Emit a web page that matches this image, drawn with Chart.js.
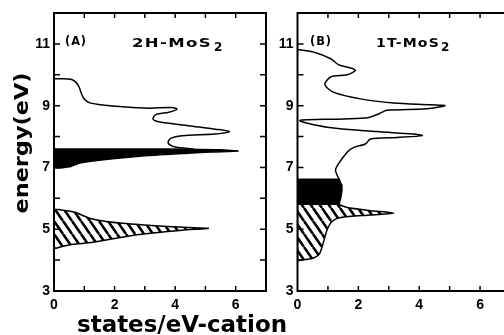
<!DOCTYPE html>
<html>
<head>
<meta charset="utf-8">
<script src="https://cdn.jsdelivr.net/npm/chart.js@4.4.1/dist/chart.umd.min.js"></script>
<style>
  html, body { margin: 0; padding: 0; background: #fff; overflow: hidden; }
  #wrap { position: relative; width: 504px; height: 335px; overflow: hidden; }
  canvas { position: absolute; top: 0; }
  #cvA { left: 0; }
  #cvB { left: 268px; }
</style>
</head>
<body>
<div id="wrap">
  <canvas id="cvA" width="290" height="335"></canvas>
  <canvas id="cvB" width="250" height="335"></canvas>
</div>
<script>
/* global Chart */
// eixos (iguais nos dois paineis)
const X_RANGE = [0, 7];
const Y_RANGE = [3, 12];
const X_TICK_LABELS = [0, 2, 4, 6];
const Y_TICK_LABELS = [3, 5, 7, 9, 11];

// painel A: 2H-MoS2  [estados, energia]
const contornoA = [[0, 9.87], [0.58, 9.85], [0.8, 9.66], [0.96, 9.27], [1.18, 9.09], [2.05, 8.98],
  [3.14, 8.92], [3.9, 8.94], [4.06, 8.88], [3.79, 8.79], [3.36, 8.71], [3.27, 8.57], [3.46, 8.48],
  [4.44, 8.35], [5.32, 8.24], [5.8, 8.16], [5.32, 8.08], [4.23, 8.03], [3.85, 7.94], [3.77, 7.79],
  [4.01, 7.66], [4.6, 7.6]];
const blocoA = [[0, 7.6], [1.5, 7.6], [3, 7.6], [4.5, 7.59], [5.5, 7.57], [6.08, 7.53], [5.2, 7.5],
  [4.44, 7.46], [2.81, 7.36], [1.28, 7.21], [0.85, 7.14], [0.5, 7.02], [0, 7.0], [0, 7.6]];
const hachuraA = [[0, 5.65], [0.4, 5.6], [0.7, 5.55], [1.2, 5.35], [2.27, 5.19], [3.9, 5.08],
  [5.1, 5.03], [4.23, 4.97], [2.81, 4.83], [1.28, 4.58], [0.63, 4.51], [0.3, 4.45], [0, 4.4], [0, 5.65]];

// painel B: 1T-MoS2
const contornoB = [[0, 10.82], [0.55, 10.73], [1.09, 10.52], [1.36, 10.32], [1.75, 10.22], [1.9, 10.14],
  [1.63, 10.0], [1.09, 9.93], [0.9, 9.68], [1.2, 9.43], [2.07, 9.22], [3.16, 9.09], [4.4, 9.03],
  [4.85, 9.0], [4.25, 8.9], [2.94, 8.85], [2.68, 8.74], [2.35, 8.62], [1.53, 8.57], [0.08, 8.52],
  [0.98, 8.3], [2.61, 8.16], [3.8, 8.08], [4.1, 8.03], [3.27, 7.97], [2.4, 7.92], [2.23, 7.76],
  [1.85, 7.65], [1.63, 7.49], [1.25, 6.94], [1.31, 6.73], [1.37, 6.62]];
const blocoB = [[0, 6.62], [1.37, 6.62], [1.44, 6.45], [1.46, 6.25], [1.42, 6.0], [1.36, 5.81],
  [0, 5.81], [0, 6.62]];
const hachuraB = [[0, 5.81], [1.31, 5.81], [1.63, 5.7], [2.4, 5.6], [3.16, 5.52], [2.4, 5.46],
  [1.42, 5.38], [1.14, 5.26], [0.98, 5.0], [0.86, 4.6], [0.72, 4.2], [0.5, 4.06], [0.11, 4.0],
  [0, 4.0], [0, 5.81]];

const FONTE_TICK = { family: 'Liberation Sans', weight: 'bold', size: 14 };

function padraoHachura() {
  const w = 9, h = 13;
  const c = document.createElement('canvas');
  c.width = w; c.height = h;
  const g = c.getContext('2d');
  g.strokeStyle = '#000'; g.lineWidth = 2.6;
  g.beginPath();
  for (const k of [-1, 0, 1]) { g.moveTo(k * w, 0); g.lineTo(k * w + w, h); }
  g.stroke();
  return g.createPattern(c, 'repeat');
}

function serie(pts, extra) {
  return Object.assign({
    data: pts.map(([x, y]) => ({ x, y })),
    borderColor: '#000', borderWidth: 1.5, pointRadius: 0, fill: false, tension: 0.3
  }, extra);
}

// texto esticado na horizontal ate a largura pedida (alinhado ao centro)
function textoLargo(ctx, txt, cx, cy, fonte, largura, angulo) {
  ctx.save();
  ctx.font = fonte;
  const w = ctx.measureText(txt).width;
  ctx.translate(cx, cy);
  ctx.rotate(angulo || 0);
  ctx.scale(largura / w, 1);
  ctx.textAlign = 'center';
  ctx.textBaseline = 'alphabetic';
  ctx.fillText(txt, 0, 0);
  ctx.restore();
}

// rotulo do painel: espacado e esticado, alinhado a esquerda
function rotuloLargo(ctx, txt, x, y, largura) {
  ctx.save();
  ctx.font = 'bold 12px "DejaVu Sans"';
  if ('letterSpacing' in ctx) ctx.letterSpacing = '1px';
  const w = ctx.measureText(txt).width;
  ctx.translate(x, y);
  ctx.scale(largura / w, 1);
  ctx.textAlign = 'left';
  ctx.textBaseline = 'alphabetic';
  ctx.fillText(txt, 0, 0);
  ctx.restore();
}

const moldura = {
  id: 'moldura',
  afterDraw(chart) {
    const { ctx, chartArea: a, scales: { x, y } } = chart;
    ctx.save();
    ctx.strokeStyle = '#000';
    ctx.lineWidth = 2;
    ctx.strokeRect(a.left, a.top, a.right - a.left, a.bottom - a.top);
    ctx.lineWidth = 1.5;
    ctx.beginPath();
    for (let v = X_RANGE[0] + 1; v < X_RANGE[1]; v++) {
      const px = x.getPixelForValue(v);
      ctx.moveTo(px, a.bottom); ctx.lineTo(px, a.bottom - 5);
      ctx.moveTo(px, a.top); ctx.lineTo(px, a.top + 5);
    }
    for (let v = Y_RANGE[0] + 1; v < Y_RANGE[1]; v++) {
      const py = y.getPixelForValue(v);
      ctx.moveTo(a.left, py); ctx.lineTo(a.left + 6, py);
      ctx.moveTo(a.right, py); ctx.lineTo(a.right - 6, py);
    }
    ctx.stroke();
    ctx.restore();
  }
};

const rotulos = {
  id: 'rotulos',
  afterDraw(chart, args, o) {
    const ctx = chart.ctx;
    ctx.save();
    ctx.fillStyle = '#000';
    rotuloLargo(ctx, o.painel, o.px, 45, 22);
    rotuloLargo(ctx, o.nome, o.nx, 47, o.nw);
    ctx.font = 'bold 12px "DejaVu Sans"';
    ctx.textAlign = 'left';
    ctx.textBaseline = 'alphabetic';
    ctx.fillText(o.sub, o.sx, 51);
    if (o.titulos) {
      textoLargo(ctx, 'energy(eV)', 28, 143, 'bold 20px "DejaVu Sans"', 141, -Math.PI / 2);
      textoLargo(ctx, 'states/eV-cation', 182, 332, 'bold 23px "DejaVu Sans"', 210, 0);
    }
    ctx.restore();
  }
};

function montar(id, cfg) {
  const cv = document.getElementById(id);
  return new Chart(cv, {
    type: 'line',
    data: { datasets: cfg.series },
    options: {
      responsive: false, animation: false, events: [],
      layout: { padding: { left: 0, top: 13, right: cv.width - cfg.right, bottom: 0 } },
      plugins: { legend: { display: false }, tooltip: { enabled: false }, rotulos: cfg.rotulo },
      scales: {
        x: {
          type: 'linear', min: X_RANGE[0], max: X_RANGE[1],
          grid: { display: false, drawTicks: false }, border: { display: false },
          ticks: {
            stepSize: 1, autoSkip: false, maxRotation: 0, padding: 6, color: '#000', font: FONTE_TICK,
            callback: v => (X_TICK_LABELS.includes(v) ? String(v) : '')
          },
          afterFit: s => { s.height = 44; }
        },
        y: {
          type: 'linear', min: Y_RANGE[0], max: Y_RANGE[1],
          grid: { display: false, drawTicks: false }, border: { display: false },
          ticks: {
            stepSize: 1, autoSkip: false, padding: 4, color: '#000', font: FONTE_TICK,
            callback: v => (Y_TICK_LABELS.includes(v) ? String(v) : '')
          },
          afterFit: s => { s.width = cfg.left; }
        }
      }
    },
    plugins: [moldura, rotulos]
  });
}

const hach = padraoHachura();

montar('cvA', {
  left: 54, right: 266,
  series: [
    serie(hachuraA, { backgroundColor: hach, fill: 'shape', tension: 0.25 }),
    serie(blocoA, { backgroundColor: '#000', fill: 'shape', tension: 0.2 }),
    serie(contornoA, {})
  ],
  rotulo: { painel: '(A)', px: 65, nome: '2H-MoS', nx: 132, nw: 80, sub: '2', sx: 214, titulos: true }
});

montar('cvB', {
  left: 29.5, right: 242.5,
  series: [
    serie(hachuraB, { backgroundColor: hach, fill: 'shape', tension: 0.25 }),
    serie(blocoB, { backgroundColor: '#000', fill: 'shape', tension: 0 }),
    serie(contornoB, {})
  ],
  rotulo: { painel: '(B)', px: 42, nome: '1T-MoS', nx: 108, nw: 64, sub: '2', sx: 173, titulos: false }
});
</script>
</body>
</html>
